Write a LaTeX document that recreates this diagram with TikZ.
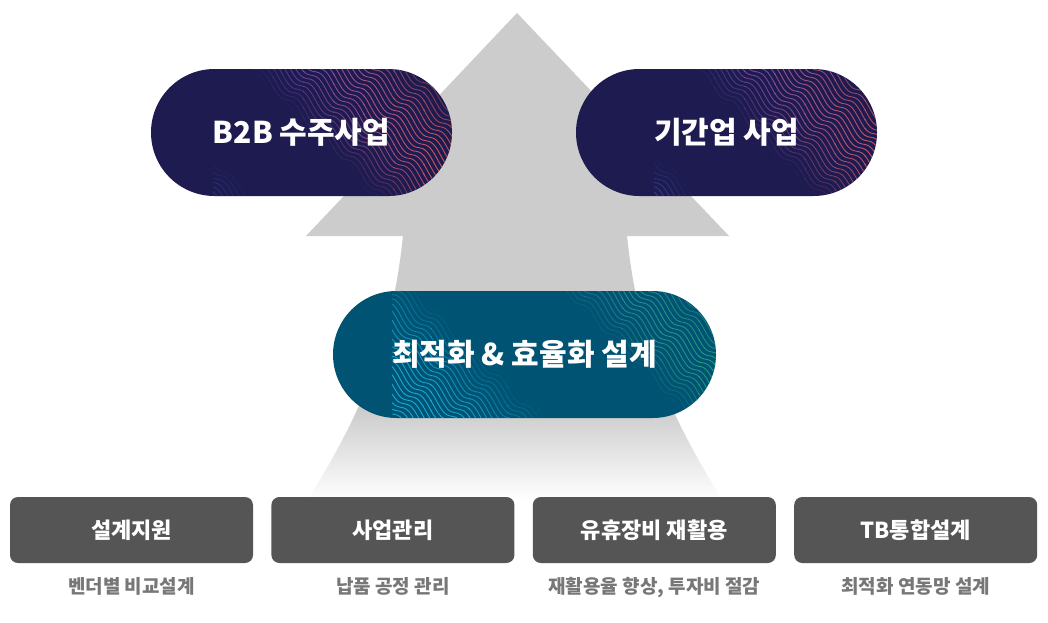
\documentclass[tikz,border=0pt]{standalone}
\usepackage{fontspec}
\setmainfont{Noto Sans CJK KR}
\usetikzlibrary{positioning,shapes.misc}
\definecolor{navy}{HTML}{1D1B4F}
\definecolor{petrol}{HTML}{005373}
\definecolor{slate}{HTML}{555555}
\definecolor{greytext}{HTML}{777777}
\definecolor{arrowgrey}{HTML}{CCCCCC}
\definecolor{wblue}{HTML}{3F5CC4}
\definecolor{wviolet}{HTML}{5548D0}
\definecolor{worange}{HTML}{F05A3C}
\definecolor{wcyan}{HTML}{19B5E6}
\definecolor{wgreen}{HTML}{22B070}

% bundle of wavy lines: first offset, count, left colour, right colour, opacity, width
\newcommand\wavebundle[6]{%
  \foreach \k in {0,...,#2}{%
    \pgfmathsetmacro\off{#1+7*\k}%
    \pgfmathsetmacro\ph{3.5*\k}%
    \pgfmathsetmacro\op{#5*sin(180*(\k+0.5)/(#2+1))}%
    \foreach \j in {0,...,9}{%
      \pgfmathtruncatemacro\pct{\j*11}%
      \pgfmathsetmacro\ua{\j*#6/10}\pgfmathsetmacro\ub{(\j+1)*#6/10+1}%
      \draw[#4!\pct!#3,opacity=\op,line width=0.9pt] plot[domain=\ua:\ub,samples=15] (\x,{\off+\x+4*sin(12*(\x+\ph))});
    }}}

\begin{document}
\begin{tikzpicture}[x=1pt,y=-1pt,node distance=18pt,
  pill/.style={rounded rectangle,minimum width=301pt,minimum height=127pt,inner sep=0pt,text=white,font=\bfseries\fontsize{30}{33}\selectfont},
  box/.style={fill=slate,rounded corners=8pt,minimum width=243pt,minimum height=66pt,inner sep=0pt,text=white,font=\bfseries\fontsize{22}{25}\selectfont},
  sub/.style={inner sep=0pt,text=greytext,font=\bfseries\fontsize{19}{21}\selectfont}]
\useasboundingbox[fill=white] (0,0) rectangle (1048,622);
% big arrow behind
\begin{scope}
\clip (517,13) -- (729,236) -- (627,236) .. controls (640,360) and (680,430) .. (722,500) -- (308,500) .. controls (350,430) and (390,360) .. (403,236) -- (306,236) -- cycle;
\fill[arrowgrey] (300,0) rectangle (740,410);
\shade[top color=arrowgrey,bottom color=white] (300,409) rectangle (740,500);
\end{scope}
% pills
\node[pill,fill=navy,path picture={\begin{scope}[shift={(path picture bounding box.north west)}]
  \wavebundle{-300}{27}{wviolet}{worange}{1}{301}\wavebundle{10}{14}{wblue}{wblue}{0.35}{301}\end{scope}}] (b2b) at (301.5,132.5) {B2B 수주사업};
\node[pill,fill=navy,path picture={\begin{scope}[shift={(path picture bounding box.north west)}]
  \wavebundle{-300}{27}{wviolet}{worange}{1}{301}\wavebundle{10}{14}{wblue}{wblue}{0.55}{301}\end{scope}}] (infra) at (726.5,132.5) {기간업 사업};
\node[pill,fill=petrol,minimum width=383pt,path picture={\begin{scope}[shift={(path picture bounding box.north west)}]
  \wavebundle{-383}{20}{wblue}{wgreen}{0.9}{383}\wavebundle{-100}{33}{wcyan}{wcyan}{0.9}{383}\end{scope}}] (optim) at (524.5,354.5) {최적화 \& 효율화 설계};
% bottom row
\node[box] (design) at (131.5,530) {설계지원};
\node[box,right=of design] (manage) {사업관리};
\node[box,right=of manage] (reuse) {유휴장비 재활용};
\node[box,right=of reuse] (tb) {TB통합설계};
\node[sub,below=14pt of design] (designsub) {벤더별 비교설계};
\node[sub,below=14pt of manage] (managesub) {납품 공정 관리};
\node[sub,below=14pt of reuse] (reusesub) {재활용율 향상, 투자비 절감};
\node[sub,below=14pt of tb] (tbsub) {최적화 연동망 설계};
\end{tikzpicture}
\end{document}
